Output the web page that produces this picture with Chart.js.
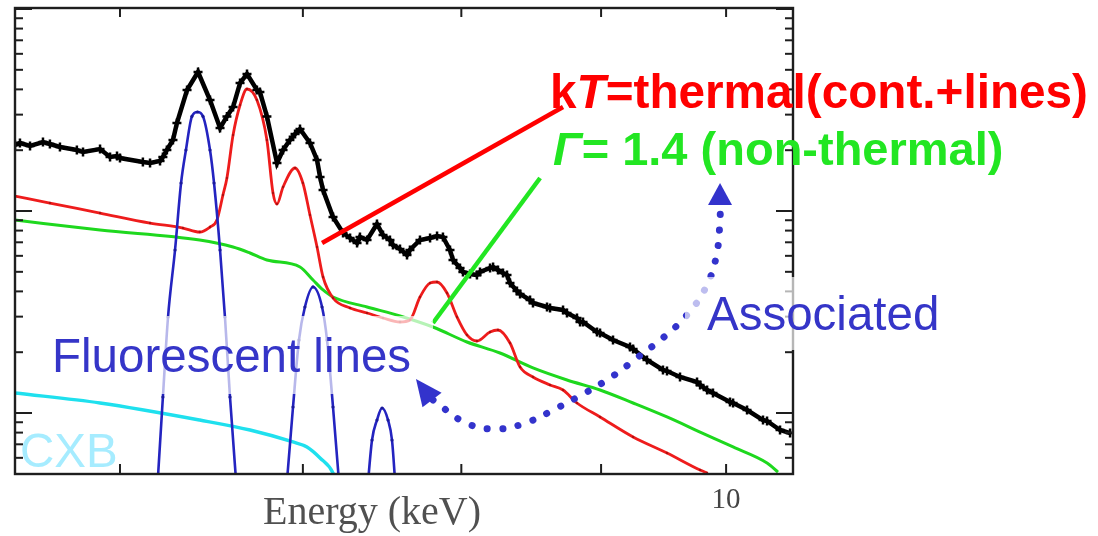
<!DOCTYPE html>
<html><head><meta charset="utf-8">
<script src="https://cdn.jsdelivr.net/npm/chart.js@4.4.1/dist/chart.umd.min.js"></script>
<style>html,body{margin:0;padding:0;background:#fff;}#wrap{width:1098px;height:536px;}</style>
</head><body><div id="wrap"><canvas id="c" width="1098" height="536"></canvas></div>
<script>
// ---- axes ----
const energyRange = [5.492, 10.58];
const countRange = [0.000499, 0.10115];
const xMajorTicks = [6, 7, 8, 9, 10];
const xTickLabels = ['', '', '', '', '10'];
const yMajorTicks = [0.001, 0.01, 0.1];
const yMinorTicks = [0.0005,0.0006,0.0007,0.0008,0.0009,0.002,0.003,0.004,0.005,0.006,0.007,0.008,0.009,0.02,0.03,0.04,0.05,0.06,0.07,0.08,0.09];
const xTitle = 'Energy (keV)';

// ---- observed spectrum ----
const dataEnergy = [5.492,5.515,5.562,5.623,5.656,5.704,5.786,5.816,5.900,5.950,
5.985,6.000,6.117,6.154,6.206,6.221,6.242,6.274,6.295,6.349,
6.408,6.473,6.528,6.566,6.600,6.639,6.678,6.734,6.751,6.791,
6.849,6.884,6.924,6.954,6.983,7.042,7.084,7.102,7.120,7.180,
7.241,7.284,7.327,7.345,7.389,7.451,7.489,7.533,7.552,7.597,
7.642,7.661,7.726,7.792,7.838,7.877,7.924,7.944,7.991,8.011,
8.059,8.106,8.127,8.196,8.217,8.251,8.286,8.314,8.335,8.384,
8.406,8.477,8.498,8.599,8.621,8.716,8.745,8.819,8.842,8.864,
8.969,8.992,9.091,9.222,9.246,9.355,9.482,9.514,9.619,9.758,
9.783,9.841,9.890,10.033,10.059,10.178,10.316,10.351,10.465,10.554];
const dataCounts = [0.02122,0.02171,0.02098,0.02196,0.02146,0.02074,0.02005,0.01959,0.02027,0.01851,
0.01872,0.01830,0.01748,0.01729,0.01768,0.01851,0.02005,0.02246,0.02726,0.03972,
0.04877,0.03544,0.02576,0.02940,0.03272,0.04302,0.04767,0.03972,0.03882,0.02940,
0.01729,0.02005,0.02246,0.02405,0.02547,0.02171,0.01789,0.01474,0.01270,0.009338,
0.007782,0.007351,0.006944,0.007435,0.007185,0.008622,0.007607,0.007185,0.006787,0.006485,
0.006056,0.006412,0.007185,0.007351,0.007521,0.007435,0.006412,0.005721,0.005222,0.004989,
0.004877,0.004822,0.004989,0.005222,0.005282,0.005105,0.004933,0.004822,0.004403,0.004019,
0.003885,0.003627,0.003505,0.003349,0.003311,0.003236,0.003127,0.002954,0.002822,0.002822,
0.002518,0.002490,0.002299,0.002122,0.002074,0.001830,0.001633,0.001614,0.001508,0.001424,
0.001377,0.001300,0.001256,0.001134,0.001121,0.001035,0.000923,0.000913,0.000824,0.000796];

// ---- thermal model (cont.+lines) ----
const thermalEnergy = [5.492,5.656,5.900,6.154,6.327,6.417,6.473,6.511,6.544,6.566,
6.600,6.639,6.678,6.734,6.791,6.826,6.849,6.884,6.954,7.000,
7.042,7.084,7.120,7.180,7.284,7.389,7.489,7.597,7.661,7.726,
7.792,7.838,7.904,7.971,8.038,8.106,8.196,8.251,8.335,8.406,
8.498,8.621,8.716,8.819,8.992,9.246,9.514,9.783,9.841];
const thermalCounts = [0.01186,0.01095,0.009774,0.008721,0.008238,0.007871,0.008332,0.009024,0.01200,0.01457,
0.02378,0.03348,0.04018,0.03544,0.02246,0.01228,0.01083,0.01315,0.01633,0.01376,
0.009553,0.006635,0.004713,0.003711,0.003311,0.003127,0.002954,0.002822,0.002887,0.003753,
0.004403,0.004453,0.003929,0.002988,0.002434,0.002272,0.002518,0.002576,0.002222,0.001690,
0.001508,0.001377,0.001300,0.001121,0.000956,0.000761,0.000634,0.000522,0.000505];

// ---- power law, Gamma = 1.4 ----
const plEnergy = [5.492,5.900,6.417,6.600,6.695,6.791,6.983,7.060,7.120,7.180,7.389,7.597,7.811,8.038,8.265,8.498,8.745,8.992,9.246,9.514,9.783,10.059,10.351,10.447];
const plCounts = [0.009024,0.008052,0.007185,0.006635,0.006196,0.005721,0.005282,0.004555,0.004066,0.003753,0.003349,0.003022,0.002665,0.002247,0.001982,0.001671,0.001457,0.001300,0.001121,0.000956,0.000805,0.000679,0.000566,0.000510];

// ---- CXB ----
const cxbEnergy = [5.492,5.900,6.417,6.695,6.942,7.024,7.102,7.180,7.204];
const cxbCounts = [0.001256,0.001121,0.000923,0.000824,0.000719,0.000679,0.000599,0.000505,0.00044];

// ---- fluorescent lines ----
const fe64Energy = [6.190,6.221,6.248,6.285,6.317,6.343,6.375,6.405,6.435,6.473,6.495,6.528,6.555,6.583,6.622];
const fe64Counts = [0.0004,0.0012,0.002988,0.006412,0.01376,0.02005,0.0294,0.03091,0.0294,0.02005,0.01376,0.006412,0.002988,0.0012,0.0004];
const fe706Energy = [6.901,6.942,6.977,7.012,7.060,7.114,7.144,7.180,7.222];
const fe706Counts = [0.0004,0.001071,0.002299,0.003349,0.004207,0.003349,0.002299,0.001071,0.0004];
const ni748Energy = [7.389,7.420,7.451,7.483,7.521,7.546,7.571];
const ni748Counts = [0.0004,0.000735,0.000923,0.001059,0.000923,0.000735,0.0004];

// ---- annotation pointers (data coordinates) ----
const thermalPointerEnergy = [7.114, 8.716];
const thermalPointerCounts = [0.006944, 0.03272];
const plPointerEnergy = [7.811, 8.549];
const plPointerCounts = [0.00279, 0.01457];
const arrowEnergy = [7.811,8.032,8.244,8.462,8.672,8.879,9.091,9.285,9.490,9.676,9.824,9.915,9.949,9.949];
const arrowCounts = [0.00116,0.000892,0.000833,0.000902,0.001059,0.001256,0.001525,0.001894,0.002378,0.003057,0.004111,0.005853,0.008922,0.010708];
const arrowHeadLeft = {tip:[7.700,0.001474], base:[7.805,0.00116]};
const arrowHeadRight = {tip:[9.949,0.01376], base:[9.949,0.010708]};

const pts = (e, c) => e.map((v, i) => ({x: v, y: c[i]}));

const blue = '#2424c0';
const decor = {
  id: 'decor',
  afterDatasetsDraw(chart) {
    const {ctx, chartArea: a, scales: {x, y}} = chart;
    const line = (x1, y1, x2, y2) => { ctx.beginPath(); ctx.moveTo(x1, y1); ctx.lineTo(x2, y2); ctx.stroke(); };
    ctx.save();
    // frame & ticks
    ctx.strokeStyle = '#1e1e1e';
    ctx.lineWidth = 2.4;
    ctx.strokeRect(a.left, a.top, a.right - a.left, a.bottom - a.top);
    ctx.lineWidth = 2;
    xMajorTicks.forEach(v => { const px = x.getPixelForValue(v); line(px, a.bottom, px, a.bottom - 10); line(px, a.top, px, a.top + 9); });
    yMajorTicks.forEach(v => { const py = y.getPixelForValue(v); if (py >= a.top - 1 && py <= a.bottom + 1) { line(a.left, py, a.left + 17, py); line(a.right, py, a.right - 17, py); } });
    yMinorTicks.forEach(v => { const py = y.getPixelForValue(v); if (py > a.top + 1 && py < a.bottom - 1) { line(a.left, py, a.left + 8, py); line(a.right, py, a.right - 8, py); } });
    // tick label & title
    ctx.fillStyle = '#444';
    ctx.textAlign = 'center'; ctx.textBaseline = 'alphabetic';
    ctx.font = '29px "Liberation Serif", serif';
    xMajorTicks.forEach((v, i) => { if (xTickLabels[i]) ctx.fillText(xTickLabels[i], x.getPixelForValue(v), 508); });
    ctx.font = '40px "Liberation Serif", serif';
    ctx.fillStyle = '#505050';
    ctx.fillText(xTitle, 372, 524);
    // translucent text boxes
    ctx.fillStyle = 'rgba(255,255,255,0.68)';
    ctx.fillRect(48, 316, 385, 78);
    ctx.fillRect(685, 277, 262, 73);
    // arrow heads
    ctx.fillStyle = '#3333cc';
    [arrowHeadLeft, arrowHeadRight].forEach(h => {
      const tx = x.getPixelForValue(h.tip[0]), ty = y.getPixelForValue(h.tip[1]);
      const bx = x.getPixelForValue(h.base[0]), by = y.getPixelForValue(h.base[1]);
      let dx = tx - bx, dy = ty - by; const L = Math.hypot(dx, dy); dx /= L; dy /= L;
      const hw = 12;
      ctx.beginPath();
      ctx.moveTo(tx, ty);
      ctx.lineTo(bx - dy * hw, by + dx * hw);
      ctx.lineTo(bx + dy * hw, by - dx * hw);
      ctx.closePath(); ctx.fill();
    });
    // texts
    const seg = (parts, x0, y0, color) => {
      ctx.fillStyle = color; ctx.textAlign = 'left';
      let cx = x0;
      parts.forEach(([t, f]) => { ctx.font = f; ctx.fillText(t, cx, y0); cx += ctx.measureText(t).width; });
    };
    const B = 'bold 47.7px "Liberation Sans", Arial, sans-serif';
    const BI = 'italic bold 47.7px "Liberation Sans", Arial, sans-serif';
    seg([['k', B], ['T', BI], ['=thermal(cont.+lines)', B]], 550, 108, '#ff0000');
    const G = 'bold 47px "Liberation Sans", Arial, sans-serif';
    const GI = 'italic bold 47px "Liberation Sans", Arial, sans-serif';
    seg([['\u0393', GI], ['= 1.4 (non-thermal)', G]], 553, 165, '#22e622');
    const N = '47.5px "Liberation Sans", Arial, sans-serif';
    seg([['Associated', N]], 707, 330, '#3535c8');
    seg([['Fluorescent lines', N]], 52, 372, '#3535c8');
    seg([['CXB', N]], 20, 467, '#a6ecff');
    ctx.restore();
  }
};

new Chart(document.getElementById('c'), {
  type: 'line',
  data: {
    datasets: [
      {data: pts(thermalPointerEnergy, thermalPointerCounts), borderColor: '#ff0000', borderWidth: 4.5, pointRadius: 0, order: 0},
      {data: pts(plPointerEnergy, plPointerCounts), borderColor: '#22e622', borderWidth: 4.5, pointRadius: 0, order: 0},
      {data: pts(arrowEnergy, arrowCounts), borderColor: '#3333cc', borderWidth: 7, borderDash: [0.1, 15.5], borderCapStyle: 'round', tension: 0.4, pointRadius: 0, order: 0},
      {data: pts(dataEnergy, dataCounts), borderColor: '#000', borderWidth: 4.5, pointStyle: 'cross', pointRadius: 4.5, pointBorderWidth: 2.5, pointBorderColor: '#000', order: 1},
      {data: pts(fe64Energy, fe64Counts), borderColor: blue, borderWidth: 2.6, cubicInterpolationMode: 'monotone', pointRadius: 1.6, pointBackgroundColor: '#1a1a9a', pointBorderWidth: 0, order: 2},
      {data: pts(fe706Energy, fe706Counts), borderColor: blue, borderWidth: 2.6, cubicInterpolationMode: 'monotone', pointRadius: 1.6, pointBackgroundColor: '#1a1a9a', pointBorderWidth: 0, order: 2},
      {data: pts(ni748Energy, ni748Counts), borderColor: blue, borderWidth: 2.6, cubicInterpolationMode: 'monotone', pointRadius: 1.6, pointBackgroundColor: '#1a1a9a', pointBorderWidth: 0, order: 2},
      {data: pts(thermalEnergy, thermalCounts), borderColor: '#ee1c1c', borderWidth: 2.8, cubicInterpolationMode: 'monotone', pointRadius: 1.2, pointBackgroundColor: '#b01010', pointBorderWidth: 0, order: 3},
      {data: pts(plEnergy, plCounts), borderColor: '#1ed81e', borderWidth: 3, cubicInterpolationMode: 'monotone', pointRadius: 0, order: 4},
      {data: pts(cxbEnergy, cxbCounts), borderColor: '#1fe0ee', borderWidth: 3.4, cubicInterpolationMode: 'monotone', pointRadius: 0, order: 5}
    ]
  },
  options: {
    responsive: false, animation: false,
    layout: {padding: {left: 15, top: 8, right: 305, bottom: 62}},
    plugins: {legend: {display: false}, tooltip: {enabled: false}},
    scales: {
      x: {type: 'logarithmic', min: energyRange[0], max: energyRange[1], display: false},
      y: {type: 'logarithmic', min: countRange[0], max: countRange[1], display: false}
    }
  },
  plugins: [decor]
});
</script></body></html>
